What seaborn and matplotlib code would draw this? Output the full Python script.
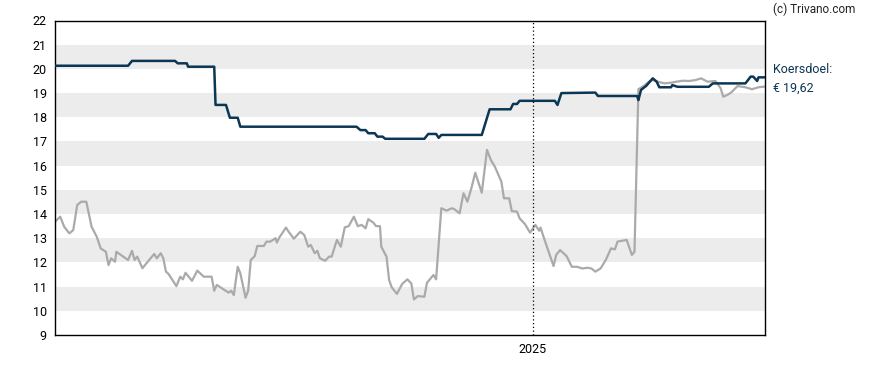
import pandas as pd
import numpy as np
import seaborn as sns
import matplotlib.pyplot as plt
import matplotlib.dates as mdates

# koers (grey)
price_dates = [
    '2024-01-01', '2024-01-05', '2024-01-08', '2024-01-12', '2024-01-15', '2024-01-18',
    '2024-01-21', '2024-01-25', '2024-01-29', '2024-02-02', '2024-02-05', '2024-02-09',
    '2024-02-11', '2024-02-13', '2024-02-16', '2024-02-17', '2024-02-26', '2024-02-29',
    '2024-03-02', '2024-03-04', '2024-03-08', '2024-03-11', '2024-03-17', '2024-03-19',
    '2024-03-22', '2024-03-24', '2024-03-26', '2024-03-28', '2024-03-31', '2024-04-03',
    '2024-04-06', '2024-04-08', '2024-04-10', '2024-04-15', '2024-04-19', '2024-04-24',
    '2024-04-30', '2024-05-02', '2024-05-04', '2024-05-10', '2024-05-13', '2024-05-15',
    '2024-05-17', '2024-05-20', '2024-05-22', '2024-05-26', '2024-05-28', '2024-05-30',
    '2024-06-02', '2024-06-04', '2024-06-09', '2024-06-11', '2024-06-14', '2024-06-18',
    '2024-06-19', '2024-06-21', '2024-06-26', '2024-06-28', '2024-07-02', '2024-07-07',
    '2024-07-10', '2024-07-13', '2024-07-15', '2024-07-18', '2024-07-20', '2024-07-22',
    '2024-07-26', '2024-07-29', '2024-07-31', '2024-08-04', '2024-08-07', '2024-08-10',
    '2024-08-13', '2024-08-17', '2024-08-20', '2024-08-23', '2024-08-26', '2024-08-28',
    '2024-09-01', '2024-09-03', '2024-09-06', '2024-09-07', '2024-09-11', '2024-09-13',
    '2024-09-15', '2024-09-19', '2024-09-23', '2024-09-27', '2024-09-30', '2024-10-02',
    '2024-10-05', '2024-10-10', '2024-10-12', '2024-10-17', '2024-10-19', '2024-10-23',
    '2024-10-27', '2024-10-31', '2024-11-02', '2024-11-06', '2024-11-09', '2024-11-12',
    '2024-11-15', '2024-11-18', '2024-11-23', '2024-11-27', '2024-11-30', '2024-12-03',
    '2024-12-08', '2024-12-10', '2024-12-14', '2024-12-16', '2024-12-20', '2024-12-22',
    '2024-12-26', '2024-12-30', '2025-01-03', '2025-01-06', '2025-01-07', '2025-01-11',
    '2025-01-17', '2025-01-19', '2025-01-22', '2025-01-27', '2025-01-31', '2025-02-04',
    '2025-02-08', '2025-02-12', '2025-02-15', '2025-02-18', '2025-02-22', '2025-02-26',
    '2025-03-02', '2025-03-05', '2025-03-07', '2025-03-11', '2025-03-14', '2025-03-18',
    '2025-03-20', '2025-03-23', '2025-03-27', '2025-03-31', '2025-04-03', '2025-04-07',
    '2025-04-12', '2025-04-17', '2025-04-21', '2025-04-26', '2025-05-01', '2025-05-06',
    '2025-05-10', '2025-05-15', '2025-05-21', '2025-05-25', '2025-05-27', '2025-05-30',
    '2025-06-02', '2025-06-07', '2025-06-13', '2025-06-18', '2025-06-23', '2025-06-28',
]
price_values = [
    13.68, 13.89, 13.48, 13.20, 13.34, 14.37,
    14.51, 14.51, 13.48, 13.06, 12.58, 12.44,
    11.89, 12.17, 12.03, 12.44, 12.10, 12.48,
    12.10, 12.24, 11.76, 11.96, 12.35, 12.17,
    12.38, 12.17, 11.62, 11.52, 11.27, 11.02,
    11.41, 11.30, 11.57, 11.24, 11.66, 11.41,
    11.41, 10.83, 11.07, 10.86, 10.75, 10.83,
    10.65, 11.82, 11.55, 10.54, 10.83, 12.10,
    12.26, 12.68, 12.68, 12.86, 12.86, 13.00,
    12.82, 13.04, 13.44, 13.27, 12.98, 13.27,
    13.13, 12.65, 12.72, 12.38, 12.48, 12.17,
    12.07, 12.24, 12.24, 12.93, 12.65, 13.45,
    13.50, 13.89, 13.50, 13.55, 13.41, 13.79,
    13.64, 13.50, 13.50, 12.65, 12.24, 11.27,
    10.97, 10.70, 11.11, 11.30, 11.13, 10.47,
    10.61, 10.58, 11.16, 11.48, 11.30, 14.24,
    14.14, 14.24, 14.20, 14.03, 14.86, 14.51,
    15.06, 15.71, 14.88, 16.65, 16.23, 15.96,
    15.34, 14.65, 14.65, 14.12, 14.10, 13.82,
    13.59, 13.23, 13.55, 13.31, 13.44, 12.79,
    11.85, 12.31, 12.51, 12.26, 11.82, 11.82,
    11.75, 11.78, 11.75, 11.62, 11.75, 12.10,
    12.58, 12.54, 12.86, 12.90, 12.93, 12.31,
    12.44, 19.16, 19.29, 19.47, 19.54, 19.47,
    19.40, 19.43, 19.47, 19.51, 19.50, 19.54,
    19.61, 19.47, 19.50, 19.20, 18.85, 18.92,
    19.02, 19.29, 19.24, 19.16, 19.24, 19.27,
]

# koersdoel (navy)
target_dates = [
    '2024-01-01', '2024-02-26', '2024-02-29', '2024-04-02', '2024-04-04', '2024-04-11',
    '2024-04-12', '2024-05-02', '2024-05-03', '2024-05-11', '2024-05-14', '2024-05-20',
    '2024-05-22', '2024-08-19', '2024-08-22', '2024-08-26', '2024-08-28', '2024-09-02',
    '2024-09-04', '2024-09-08', '2024-09-10', '2024-10-10', '2024-10-13', '2024-10-19',
    '2024-10-21', '2024-10-23', '2024-11-23', '2024-11-29', '2024-12-15', '2024-12-17',
    '2024-12-20', '2024-12-22', '2025-01-18', '2025-01-20', '2025-01-23', '2025-02-18',
    '2025-02-20', '2025-03-22', '2025-03-23', '2025-03-25', '2025-03-29', '2025-04-03',
    '2025-04-06', '2025-04-08', '2025-04-17', '2025-04-18', '2025-04-22', '2025-05-16',
    '2025-05-19', '2025-06-13', '2025-06-17', '2025-06-19', '2025-06-22', '2025-06-23',
    '2025-06-28',
]
target_values = [
    20.13, 20.13, 20.33, 20.33, 20.23, 20.23,
    20.09, 20.09, 18.51, 18.51, 17.98, 17.98,
    17.61, 17.61, 17.47, 17.47, 17.34, 17.34,
    17.20, 17.20, 17.11, 17.11, 17.31, 17.31,
    17.15, 17.27, 17.27, 18.33, 18.33, 18.55,
    18.55, 18.68, 18.68, 18.51, 19.00, 19.02,
    18.88, 18.88, 18.71, 19.13, 19.30, 19.61,
    19.47, 19.24, 19.24, 19.33, 19.26, 19.26,
    19.40, 19.40, 19.68, 19.68, 19.50, 19.65,
    19.65,
]

y_ticks = list(range(9, 23))
target_label = 'Koersdoel:\n€ 19,62'

price = pd.DataFrame({'date': pd.to_datetime(price_dates), 'value': price_values})
target = pd.DataFrame({'date': pd.to_datetime(target_dates), 'value': target_values})

sns.set_style('white')
plt.rcParams['font.family'] = ['Roboto', 'DejaVu Sans']

fig = plt.figure(figsize=(8.88, 3.70), dpi=100)
ax = fig.add_axes([55 / 888, 35 / 370, 710 / 888, 314.5 / 370])

# alternating grey bands
for lo in range(10, 22, 2):
    ax.axhspan(lo, lo + 1, color='#ececec', lw=0, zorder=0)

sns.lineplot(data=price, x='date', y='value', ax=ax, color='#aaaaaa', lw=1.6, zorder=2)
sns.lineplot(data=target, x='date', y='value', ax=ax, color='#0b3654', lw=1.8, zorder=3)

ax.axvline(pd.Timestamp('2025-01-01'), color='black', ls=(0, (1, 2)), lw=0.9, zorder=4)

ax.set_xlim(pd.Timestamp('2024-01-01'), pd.Timestamp('2025-06-28'))
ax.set_ylim(9, 22)
ax.set_yticks(y_ticks)
ax.set_xticks([pd.Timestamp('2025-01-01')])
ax.xaxis.set_major_formatter(mdates.DateFormatter('%Y'))
ax.set_xlabel('')
ax.set_ylabel('')
ax.tick_params(axis='both', direction='out', length=4, width=1, colors='black',
               labelsize=9, pad=2)
for s in ax.spines.values():
    s.set_color('black')
    s.set_linewidth(1)

fig.text(773 / 888, 1 - 9 / 370, '(c) Trivano.com', fontsize=8.5, color='#222222',
         va='center', ha='left')
fig.text(773 / 888, 1 - 79 / 370, target_label, fontsize=9, color='#0b3654',
         va='center', ha='left', linespacing=1.6)

fig.savefig('out.png', dpi=100)
